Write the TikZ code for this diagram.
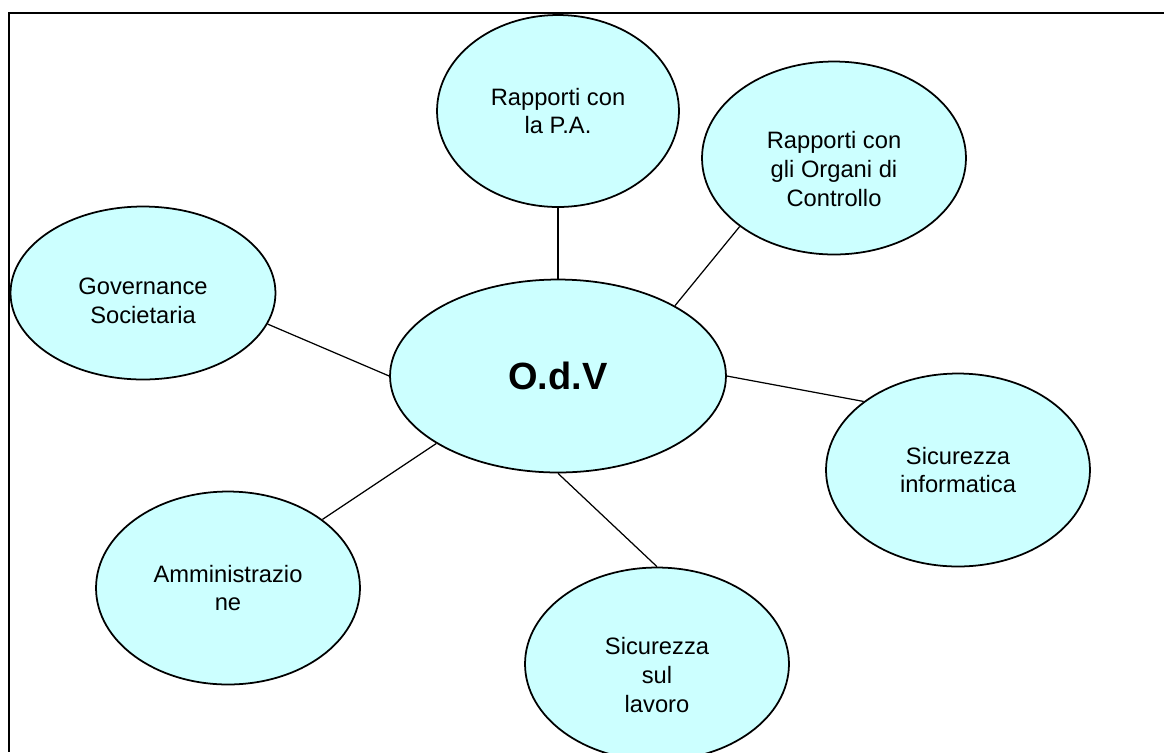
\documentclass[tikz,border=0pt]{standalone}
\usepackage{fontspec}
\setmainfont{Liberation Sans}
\usetikzlibrary{shapes.geometric}
\definecolor{bubblefill}{RGB}{204,255,255}

\begin{document}
\begin{tikzpicture}
[x=0.02cm,y=-0.02cm,bubble/.style={draw,ellipse,fill=bubblefill,line width=1pt,inner sep=0pt,align=center,font=\fontsize{13.5}{16.4}\selectfont,minimum width=5.28cm,minimum height=3.86cm},link/.style={line width=0.7pt},]

%Page size
\useasboundingbox (0,0) rectangle (1164,752);

%Frame
\draw[line width=1.1pt] (1164,13) -- (9,13) -- (9,752);

%Labeling bubbles
\node (odv) at (558,376)[bubble,minimum width=6.72cm,font=\fontsize{21.6}{26}\selectfont\bfseries] {O.d.V};
\node (pa) at (558,111)[bubble,minimum width=4.84cm,minimum height=3.84cm] {Rapporti con\\la P.A.};
\node (organi) at (834,158)[bubble] {\rule{0pt}{22pt}Rapporti con\\gli Organi di\\Controllo};
\node (gov) at (143,293)[bubble,minimum width=5.3cm,minimum height=3.46cm] {\rule{0pt}{18pt}Governance\\Societaria};
\node (sicinf) at (958,470)[bubble] {Sicurezza\\informatica};
\node (amm) at (228,588)[bubble] {Amministrazio\\ne};
\node (lavoro) at (657,664)[bubble] {\rule{0pt}{22pt}Sicurezza\\sul\\lavoro};

%Drawing links to O.d.V
\draw[link] (pa.south) -- (odv.north);
\draw[link] (organi.216) -- (odv.31);
\draw[link] (gov.-14) -- (odv.180);
\draw[link] (sicinf.144) -- (odv.0);
\draw[link] (amm.36) -- (odv.209);
\draw[link] (lavoro.north) -- (odv.south);

%
\end{tikzpicture}
\end{document}
